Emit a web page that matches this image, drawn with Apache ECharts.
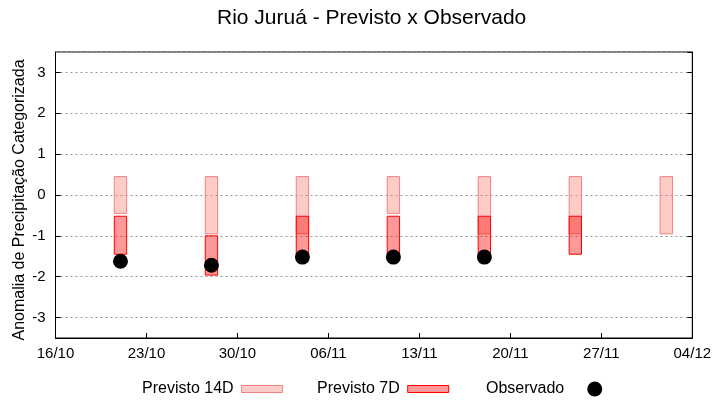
<!DOCTYPE html>
<html>
<head>
<meta charset="utf-8">
<script src="https://cdn.jsdelivr.net/npm/echarts@6/dist/echarts.min.js"></script>
<style>
  html, body { margin: 0; padding: 0; background: #fff; }
  #chart { width: 720px; height: 400px; }
</style>
</head>
<body>
<div id="chart"></div>
<script>
// ---- data ----
const startDate = '2024-10-16';
const tickLabels = ['16/10', '23/10', '30/10', '06/11', '13/11', '20/11', '27/11', '04/12'];
const dates = ['2024-10-21', '2024-10-28', '2024-11-04', '2024-11-11', '2024-11-18', '2024-11-25', '2024-12-02'];
const prev14Low  = [-0.45, -0.95, -0.95, -0.45, -0.95, -0.95, -0.95];
const prev14High = [0.45, 0.45, 0.45, 0.45, 0.45, 0.45, 0.45];
const prev7Low   = [-1.45, -1.96, -1.45, -1.45, -1.45, -1.45, null];
const prev7High  = [-0.52, -1.0, -0.52, -0.52, -0.52, -0.52, null];
const observado  = [-1.62, -1.72, -1.52, -1.52, -1.52, null, null];

const DAY = 86400000;
function dayOffset(d) { return Math.round((Date.parse(d) - Date.parse(startDate)) / DAY); }
const xDays = dates.map(dayOffset);

const FONT = 'Liberation Sans';

function rangeData(lows, highs) {
  const out = [];
  xDays.forEach((x, i) => {
    if (lows[i] != null && highs[i] != null) out.push([x, lows[i], highs[i]]);
  });
  return out;
}

function renderBox(params, api) {
  const x = api.value(0), lo = api.value(1), hi = api.value(2);
  const pTop = api.coord([x, hi]);
  const pBot = api.coord([x, lo]);
  const w = api.size([0.95, 0])[0];
  return {
    type: 'rect',
    shape: { x: pTop[0] - w / 2, y: pTop[1], width: w, height: pBot[1] - pTop[1] },
    style: api.style()
  };
}

const c14 = { color: 'rgba(250,128,114,0.4)', borderColor: '#f08080', borderWidth: 1, opacity: 1 };
const c7  = { color: 'rgba(255,0,0,0.4)', borderColor: '#ff0000', borderWidth: 1, opacity: 1 };

const chart = echarts.init(document.getElementById('chart'), null, { renderer: 'canvas' });
chart.setOption({
  animation: false,
  backgroundColor: '#ffffff',
  textStyle: { fontFamily: FONT },
  title: {
    text: 'Rio Juruá - Previsto x Observado',
    left: 217, top: 8, padding: 0,
    textStyle: { fontFamily: FONT, fontSize: 21, fontWeight: 'normal', color: '#000' }
  },
  grid: {
    left: 55.5, right: 27.7, top: 52, bottom: 62,
    outerBoundsMode: 'none', containLabel: false,
    show: true, borderColor: '#000', borderWidth: 1, backgroundColor: 'transparent'
  },
  legend: [
    {
      left: 142, top: 381, padding: 0, align: 'right', itemWidth: 41, itemHeight: 7,
      textStyle: { fontFamily: FONT, fontSize: 16, color: '#000', padding: [0, 3, 0, 0] },
      data: [{ name: 'Previsto 14D', icon: 'rect', itemStyle: c14 }]
    },
    {
      left: 317, top: 381, padding: 0, align: 'right', itemWidth: 41, itemHeight: 7,
      textStyle: { fontFamily: FONT, fontSize: 16, color: '#000', padding: [0, 3, 0, 0] },
      data: [{ name: 'Previsto 7D', icon: 'rect', itemStyle: c7 }]
    },
    {
      left: 486, top: 381, padding: 0, align: 'right', itemWidth: 15, itemHeight: 15,
      textStyle: { fontFamily: FONT, fontSize: 16, color: '#000', padding: [0, 18, 0, 0] },
      data: [{ name: 'Observado', icon: 'circle', itemStyle: { color: '#000', opacity: 1 } }]
    }
  ],
  xAxis: [
    {
      type: 'value', min: 0, max: 49, interval: 7,
      axisLine: { show: true, onZero: false, lineStyle: { color: '#000', width: 1 } },
      axisTick: { show: true, inside: true, length: 5, lineStyle: { color: '#000' } },
      splitLine: { show: false },
      axisLabel: {
        fontFamily: FONT, fontSize: 15, color: '#000', margin: 8,
        formatter: v => tickLabels[Math.round(v / 7)] || ''
      }
    }
  ],
  yAxis: [
    {
      type: 'value', min: -3.5, max: 3.5, splitNumber: 7,
      name: 'Anomalia de Precipitação Categorizada',
      nameLocation: 'middle', nameGap: 28, nameMoveOverlap: false,
      nameTextStyle: { fontFamily: FONT, fontSize: 16, color: '#000', padding: [0, 10, 0, 0] },
      axisLine: { show: true, onZero: false, lineStyle: { color: '#000', width: 1 } },
      axisTick: { show: true, inside: true, length: 5, lineStyle: { color: '#000' } },
      splitLine: { show: true, lineStyle: { color: '#999', width: 1, type: [2, 3] } },
      axisLabel: {
        fontFamily: FONT, fontSize: 15, color: '#000', margin: 10,
        showMinLabel: false, showMaxLabel: false,
        formatter: v => Number.isInteger(v) ? String(v) : ''
      }
    },
    {
      type: 'value', min: -3.5, max: 3.5, splitNumber: 7, position: 'right',
      axisLine: { show: true, onZero: false, lineStyle: { color: '#000', width: 1 } },
      axisTick: { show: true, inside: true, length: 5, lineStyle: { color: '#000' } },
      splitLine: { show: false },
      axisLabel: { show: false }
    }
  ],
  series: [
    {
      name: 'Previsto 14D', type: 'custom', renderItem: renderBox,
      itemStyle: c14, encode: { x: 0, y: [1, 2] },
      data: rangeData(prev14Low, prev14High), z: 2
    },
    {
      name: 'Previsto 7D', type: 'custom', renderItem: renderBox,
      itemStyle: c7, encode: { x: 0, y: [1, 2] },
      data: rangeData(prev7Low, prev7High), z: 3
    },
    {
      name: 'Observado', type: 'scatter', symbol: 'circle', symbolSize: 15,
      itemStyle: { color: '#000', opacity: 1 }, z: 4,
      data: xDays.map((x, i) => observado[i] == null ? null : [x, observado[i]]).filter(d => d)
    }
  ]
});
</script>
</body>
</html>
